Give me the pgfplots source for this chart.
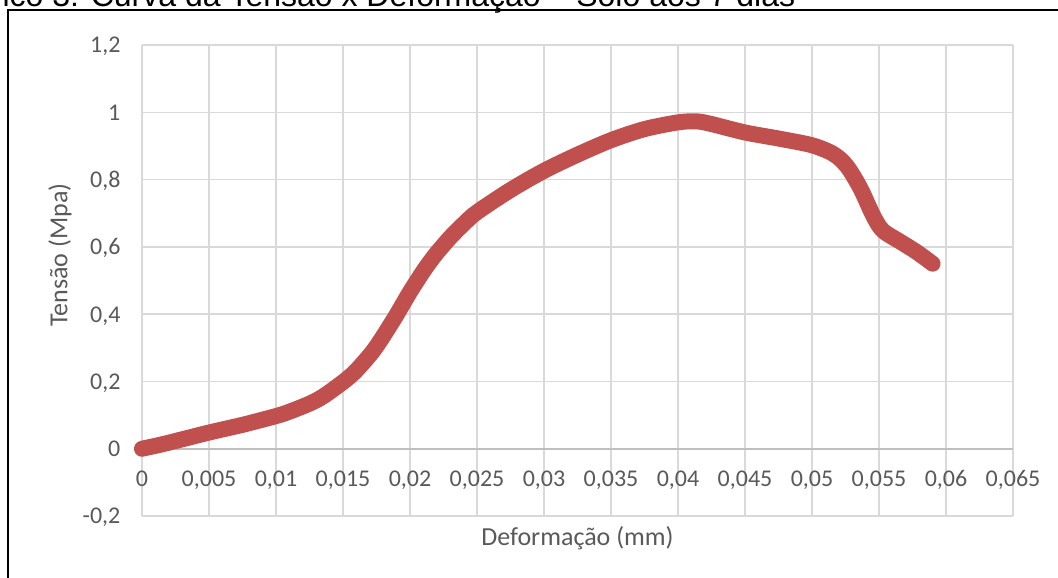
\documentclass[border=0pt]{standalone}
\usepackage{fontspec}
\setmainfont{Carlito}
\newfontfamily\titlefont{Liberation Sans}
\usepackage{pgfplots}
\pgfplotsset{compat=1.18}
\definecolor{txtgray}{HTML}{595959}
\definecolor{gridgray}{HTML}{D9D9D9}
\definecolor{axgray}{HTML}{BFBFBF}
\definecolor{curvered}{HTML}{C0504D}
\begin{document}
\begin{tikzpicture}
\begin{scope}
\clip (0,0) rectangle (793.5pt,433.5pt);
\draw[black, line width=1.1pt] (6pt,-20pt) rectangle (810pt,426pt);
\node[anchor=base west, inner sep=0pt] at (-45pt,428.25pt) {\titlefont\fontsize{24pt}{28pt}\selectfont Gráfico 3: Curva da Tensão x Deformação – Solo aos 7 dias};
\begin{axis}[
  at={(106.5pt,46.5pt)}, anchor=south west,
  scale only axis, width=653.25pt, height=353.25pt,
  xmin=0, xmax=0.065, ymin=-0.2, ymax=1.2,
  xtick={0,0.005,...,0.0651}, ytick={-0.2,0,0.2,0.4,0.6,0.8,1,1.2},
  scaled x ticks=false, scaled y ticks=false,
  grid=major, major grid style={gridgray, line width=1pt},
  axis line style={draw=none}, major tick length=0pt,
  extra y ticks={0}, extra y tick labels={},
  extra y tick style={grid=major, major grid style={axgray, line width=1.4pt}},
  /pgf/number format/.cd, use comma, 1000 sep={}, fixed, precision=3, assume math mode=true,
  /pgfplots/.cd,
  ticklabel style={font=\fontsize{18pt}{21pt}\selectfont, text=txtgray},
  xticklabel style={anchor=base, yshift=21.75pt, inner sep=0pt},
  yticklabel style={anchor=base east, xshift=-16pt, yshift=-5.9pt, inner sep=0pt},
  xlabel={Deformação (mm)},
  ylabel={Tensão (Mpa)},
  label style={font=\fontsize{19.5pt}{22pt}\selectfont, text=txtgray},
  xlabel style={at={(axis description cs:0.5,0)}, anchor=base, yshift=-22.5pt},
  ylabel style={at={(axis description cs:-0.0941,0.554)}, anchor=center},
  clip=false,
]
\addplot[curvered, line width=12pt, line cap=round, line join=round, smooth, tension=0.5] coordinates {
(0,0) (0.0016,0.014) (0.005,0.048) (0.0075,0.071) (0.01,0.097) (0.011,0.110)
(0.0125,0.134) (0.0135,0.155) (0.015,0.198) (0.0158,0.225) (0.0165,0.255)
(0.0172,0.288) (0.0178,0.322) (0.0185,0.366) (0.019,0.398) (0.02,0.466)
(0.021,0.528) (0.0215,0.556) (0.022,0.582) (0.023,0.628) (0.024,0.668)
(0.025,0.703) (0.0275,0.769) (0.03,0.826) (0.0325,0.874) (0.035,0.917)
(0.0375,0.950) (0.04,0.970) (0.0414,0.973) (0.0425,0.965) (0.045,0.940)
(0.0475,0.922) (0.05,0.902) (0.0516,0.876) (0.0526,0.840) (0.0536,0.775)
(0.0546,0.690) (0.0553,0.648) (0.0566,0.615) (0.0578,0.585) (0.059,0.550)
};
\end{axis}
\end{scope}
\pgfresetboundingbox
\path[use as bounding box] (0,0) rectangle (793.5pt,433.5pt);
\end{tikzpicture}
\end{document}
